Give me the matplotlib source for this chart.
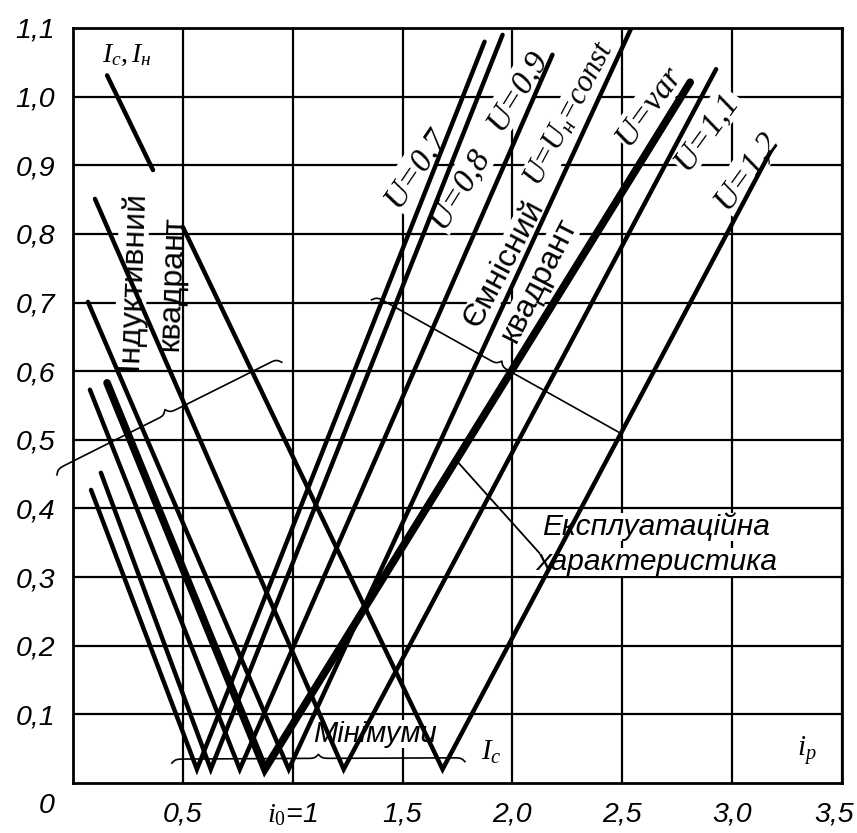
import numpy as np
import matplotlib.pyplot as plt
from matplotlib.transforms import ScaledTranslation

plt.rcParams['mathtext.fontset'] = 'custom'
plt.rcParams['mathtext.it'] = 'Liberation Serif:italic'
plt.rcParams['mathtext.rm'] = 'Liberation Serif'
plt.rcParams['font.family'] = ['Liberation Sans', 'DejaVu Sans']

# V-curves: falling branch start -> minimum -> rising branch end
curve_labels = ['U=0,7', 'U=0,8', 'U=0,9', r'$U\!=\!U_{н}\!=\!const$', 'U=var', 'U=1,1', 'U=1,2']
left_x = [0.082, 0.127, 0.077, 0.068, 0.155, 0.100, 0.500]
left_y = [0.427, 0.452, 0.573, 0.701, 0.583, 0.851, 0.810]
min_x = [0.564, 0.627, 0.759, 0.982, 0.873, 1.232, 1.682]
min_y = [0.020, 0.020, 0.020, 0.020, 0.020, 0.020, 0.020]
right_x = [1.873, 1.955, 2.182, 2.541, 2.809, 2.927, 3.173]
right_y = [1.080, 1.090, 1.061, 1.100, 1.021, 1.040, 0.919]
is_var = [False, False, False, False, True, False, False]

# label anchors (centre), rotation and size for each curve
label_x = [1.559, 1.759, 2.023, 2.262, 2.623, 2.882, 3.064]
label_y = [0.897, 0.867, 1.010, 0.975, 0.988, 0.951, 0.893]
label_rot = [56, 58, 58, 62, 54, 54, 54]
label_size = [24, 24, 24, 22, 24, 24, 24]

x_ticks = [0.5, 1.0, 1.5, 2.0, 2.5, 3.0, 3.5]
x_tick_labels = ['0,5', '$i_0$=1', '1,5', '2,0', '2,5', '3,0', '3,5']
y_ticks = [0.1, 0.2, 0.3, 0.4, 0.5, 0.6, 0.7, 0.8, 0.9, 1.0, 1.1]
y_tick_labels = ['0,1', '0,2', '0,3', '0,4', '0,5', '0,6', '0,7', '0,8', '0,9', '1,0', '1,1']

fig = plt.figure(figsize=(8.57, 8.33), dpi=100)
ax = fig.add_axes([73 / 857, 50 / 833, 769 / 857, 755 / 833])
ax.set_xlim(0, 3.5)
ax.set_ylim(0, 1.1)

ax.set_xticks(x_ticks)
ax.set_xticklabels(x_tick_labels, fontsize=20.5, fontstyle='italic')
ax.set_yticks(y_ticks)
ax.set_yticklabels(y_tick_labels, fontsize=20.5, fontstyle='italic')
ax.tick_params(length=0)
ax.tick_params(axis='x', pad=13)
ax.tick_params(axis='y', pad=13)
last = ax.get_xticklabels()[-1]
last.set_transform(last.get_transform() + ScaledTranslation(-0.08, 0, fig.dpi_scale_trans))
ax.grid(True, color='black', lw=1.6, zorder=1)
ax.set_axisbelow(True)
for s in ax.spines.values():
    s.set_linewidth(2.0)
ax.text(-0.12, -0.033, '0', fontsize=20.5, fontstyle='italic', ha='center', va='center')

# curves
for i in range(len(curve_labels)):
    xs = [left_x[i], min_x[i], right_x[i]]
    ys = [left_y[i], min_y[i], right_y[i]]
    lw = 5.5 if is_var[i] else 3.2
    ax.plot(xs, ys, color='black', lw=lw, solid_capstyle='round', solid_joinstyle='miter', zorder=4)
    ax.text(label_x[i], label_y[i], curve_labels[i], rotation=label_rot[i], rotation_mode='anchor',
            ha='center', va='center', fontsize=label_size[i], family='Liberation Serif',
            fontstyle='italic', bbox=dict(facecolor='white', edgecolor='none', pad=1), zorder=3)


def brace(ax, p0, p1, h, lw=1.2):
    # curly brace between two data points, drawn in pixel space; cusp on left side of p0->p1
    a = ax.transData.transform(p0)
    b = ax.transData.transform(p1)
    d = b - a
    L = np.hypot(*d)
    t = d / L
    n = np.array([-t[1], t[0]])
    beta = 0.55
    u = np.linspace(0, L / 2, 200)
    half = 1 / (1 + np.exp(-beta * (u - u[0]))) + 1 / (1 + np.exp(-beta * (u - u[-1]))) - 0.5
    v = np.concatenate([half, half[::-1]]) * h
    uu = np.concatenate([u, L - u[::-1]])
    pts = a + np.outer(uu, t) + np.outer(v, n)
    dpts = ax.transData.inverted().transform(pts)
    ax.plot(dpts[:, 0], dpts[:, 1], color='black', lw=lw, clip_on=False, zorder=5)


brace(ax, (-0.073, 0.449), (0.95, 0.613), 10)
brace(ax, (1.359, 0.704), (2.5, 0.50), 10)
brace(ax, (0.45, 0.029), (1.784, 0.031), 8)

# leaders
ax.plot([0.155, 0.364], [1.031, 0.893], color='black', lw=3.2, solid_capstyle='round', zorder=4)
ax.plot([2.123, 1.75], [0.335, 0.468], color='black', lw=1.3, zorder=4)

# annotations
ax.text(0.245, 1.060, r'$I_c,I_н$', fontsize=20, ha='center', va='center')
ax.text(0.268, 0.733, 'Індуктивний', rotation=88, rotation_mode='anchor', ha='center', va='center',
        fontsize=23, bbox=dict(facecolor='white', edgecolor='none', pad=0), zorder=3)
ax.text(0.45, 0.728, 'квадрант', rotation=88, rotation_mode='anchor', ha='center', va='center',
        fontsize=23, zorder=3)
ax.text(1.964, 0.756, 'Ємнісний', rotation=62, rotation_mode='anchor', ha='center', va='center',
        fontsize=23, bbox=dict(facecolor='white', edgecolor='none', pad=0), zorder=3)
ax.text(2.123, 0.733, 'квадрант', rotation=63, rotation_mode='anchor', ha='center', va='center',
        fontsize=23, bbox=dict(facecolor='white', edgecolor='none', pad=0), zorder=3)
ax.text(1.373, 0.060, 'Мінімуми', fontsize=21, fontstyle='italic', ha='center', va='baseline',
        bbox=dict(facecolor='white', edgecolor='none', pad=0), zorder=3)
ax.text(1.905, 0.045, '$I_c$', fontsize=21, ha='center', va='center')
ax.text(3.341, 0.048, '$i_p$', fontsize=21, ha='center', va='center')
ax.text(2.655, 0.361, 'Експлуатаційна', fontsize=21.5, fontstyle='italic', ha='center', va='baseline',
        bbox=dict(facecolor='white', edgecolor='none', pad=0), zorder=3)
ax.text(2.655, 0.310, 'характеристика', fontsize=21.5, fontstyle='italic', ha='center', va='baseline',
        bbox=dict(facecolor='white', edgecolor='none', pad=0), zorder=3)

fig.savefig('out.png', dpi=100)
